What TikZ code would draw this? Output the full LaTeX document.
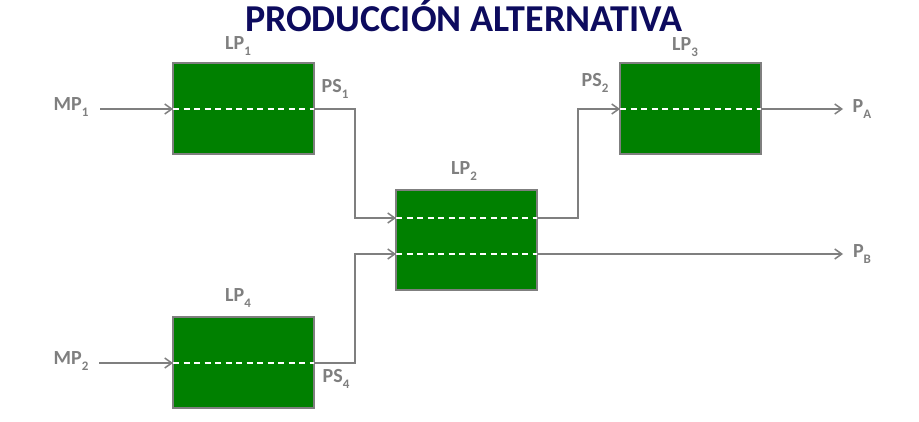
\documentclass[tikz,border=0pt]{standalone}
\usepackage{fontspec}
\setmainfont{Carlito}
\usetikzlibrary{arrows.meta}
\definecolor{lgray}{HTML}{7F7F7F}
\definecolor{boxgreen}{HTML}{008000}
\definecolor{navy}{HTML}{0D0B5E}
\newcommand{\sbx}[1]{\raisebox{-0.33em}{\fontsize{13}{13}\selectfont #1}}
\tikzset{
  procbox/.style={draw=lgray, line width=1.6pt, fill=boxgreen},
  dline/.style={white, line width=1.4pt, dash pattern=on 6pt off 4.5pt},
  conn/.style={lgray, line width=1.5pt},
  arr/.style={conn, -{Straight Barb[length=7pt,width=10pt,line width=1.5pt]}},
  lbl/.style={text=lgray, font=\fontsize{20}{20}\selectfont\bfseries, inner sep=0pt}
}
\begin{document}
\begin{tikzpicture}[x=1pt,y=-1pt]
\useasboundingbox[fill=white] (0,0) rectangle (919,421);
\node[font=\fontsize{38}{38}\selectfont\bfseries, text=navy, inner sep=0pt] (title) at (464,16) {PRODUCCIÓN ALTERNATIVA};
% boxes
\draw[procbox] (173,63) rectangle (314,154);
\draw[procbox] (396,190) rectangle (537,290);
\draw[procbox] (620,63) rectangle (761,154);
\draw[procbox] (173,317) rectangle (314,408);
\coordinate (b1w) at (173,109); \coordinate (b1e) at (314,109);
\coordinate (b2wa) at (396,218); \coordinate (b2ea) at (537,218);
\coordinate (b2wb) at (396,254); \coordinate (b2eb) at (537,254);
\coordinate (b3w) at (620,109); \coordinate (b3e) at (761,109);
\coordinate (b4w) at (173,363); \coordinate (b4e) at (314,363);
\draw[dline] (b1w) -- (b1e);
\draw[dline] (b2wa) -- (b2ea);
\draw[dline] (b2wb) -- (b2eb);
\draw[dline] (b3w) -- (b3e);
\draw[dline] (b4w) -- (b4e);
% labels
\node[lbl] (mp1) at (71,107) {MP\sbx{1}};
\node[lbl] (mp2) at (71,361) {MP\sbx{2}};
\node[lbl] (lp1) at (238,46) {LP\sbx{1}};
\node[lbl] (lp2) at (464,171) {LP\sbx{2}};
\node[lbl] (lp3) at (685,47) {LP\sbx{3}};
\node[lbl] (lp4) at (238,298) {LP\sbx{4}};
\node[lbl] (ps1) at (335,89) {PS\sbx{1}};
\node[lbl] (ps2) at (595,83) {PS\sbx{2}};
\node[lbl] (ps4) at (336,379) {PS\sbx{4}};
\node[lbl] (pa) at (862,109) {P\sbx{A}};
\node[lbl] (pb) at (862,254) {P\sbx{B}};
\coordinate (mp1e) at (100,109);
\coordinate (mp2e) at (99,363);
\coordinate (pae) at (843,109);
\coordinate (pbe) at (843,254);
% connectors
\draw[arr] (mp1e) -- (b1w);
\draw[arr] (mp2e) -- (b4w);
\draw[arr] (b1e) -- (355,109) -- (355,218) -- (b2wa);
\draw[arr] (b4e) -- (355,363) -- (355,254) -- (b2wb);
\draw[arr] (b2ea) -- (578,218) -- (578,109) -- (b3w);
\draw[arr] (b2eb) -- (pbe);
\draw[arr] (b3e) -- (pae);
\end{tikzpicture}
\end{document}
